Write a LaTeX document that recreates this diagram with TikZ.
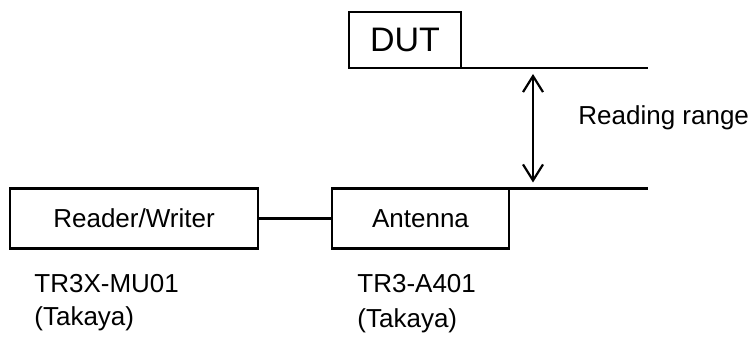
\documentclass[tikz,border=0pt]{standalone}
\usepackage{fontspec}
\setmainfont{Liberation Sans}
\usepackage{tikz}
\usetikzlibrary{arrows.meta, positioning}
\tikzset{
  dev_box/.style={rectangle, draw=black, line width=1.2pt, inner sep=0pt, outer sep=0pt, font=\fontsize{13}{15.6}\selectfont},
  dut_box/.style={dev_box, minimum width=56pt, minimum height=28pt, font=\fontsize{17}{20}\selectfont},
  plane_line/.style={-, line width=1.2pt, black},
  link/.style={-, line width=1.2pt, black},
  range_arrow/.style={{Straight Barb[length=8pt,width=10pt]}-{Straight Barb[length=8pt,width=10pt]}, line width=1.1pt, black, shorten <=3pt, shorten >=3pt},
  label_text/.style={anchor=west, inner sep=0pt, font=\fontsize{13}{15.6}\selectfont}
}

\begin{document}
\begin{tikzpicture}[x=0.5pt, y=0.5pt]
    \useasboundingbox (0,0) rectangle (755,341);

    % Device under test
    \node[dut_box] (dut) at (405,301) {DUT};
    \coordinate (dut_end) at (648,273);
    \draw[plane_line] (dut.south east) -- (dut_end);

    % Reader and antenna
    \node[dev_box, minimum width=124pt, minimum height=30pt] (reader) at (134,122.5) {Reader/Writer};
    \node[dev_box, minimum width=88.5pt, minimum height=30pt] (antenna) at (420.5,122.5) {Antenna};
    \draw[link] (reader) -- (antenna);
    \coordinate (ant_end) at (648,152.5);
    \draw[plane_line] (antenna.north east) -- (ant_end);

    % Reading range
    \coordinate (range_top) at (533,273);
    \coordinate (range_bot) at (533,152.5);
    \draw[range_arrow] (range_top) -- (range_bot);
    \node[label_text] (range) at (578,223) {Reading range};

    % Model names
    \node[label_text] (reader_model) at (34,57) {TR3X-MU01};
    \node[label_text] (reader_maker) at (34,22) {(Takaya)};
    \node[label_text] (ant_model) at (357,57) {TR3-A401};
    \node[label_text] (ant_maker) at (357,20) {(Takaya)};
\end{tikzpicture}
\end{document}
